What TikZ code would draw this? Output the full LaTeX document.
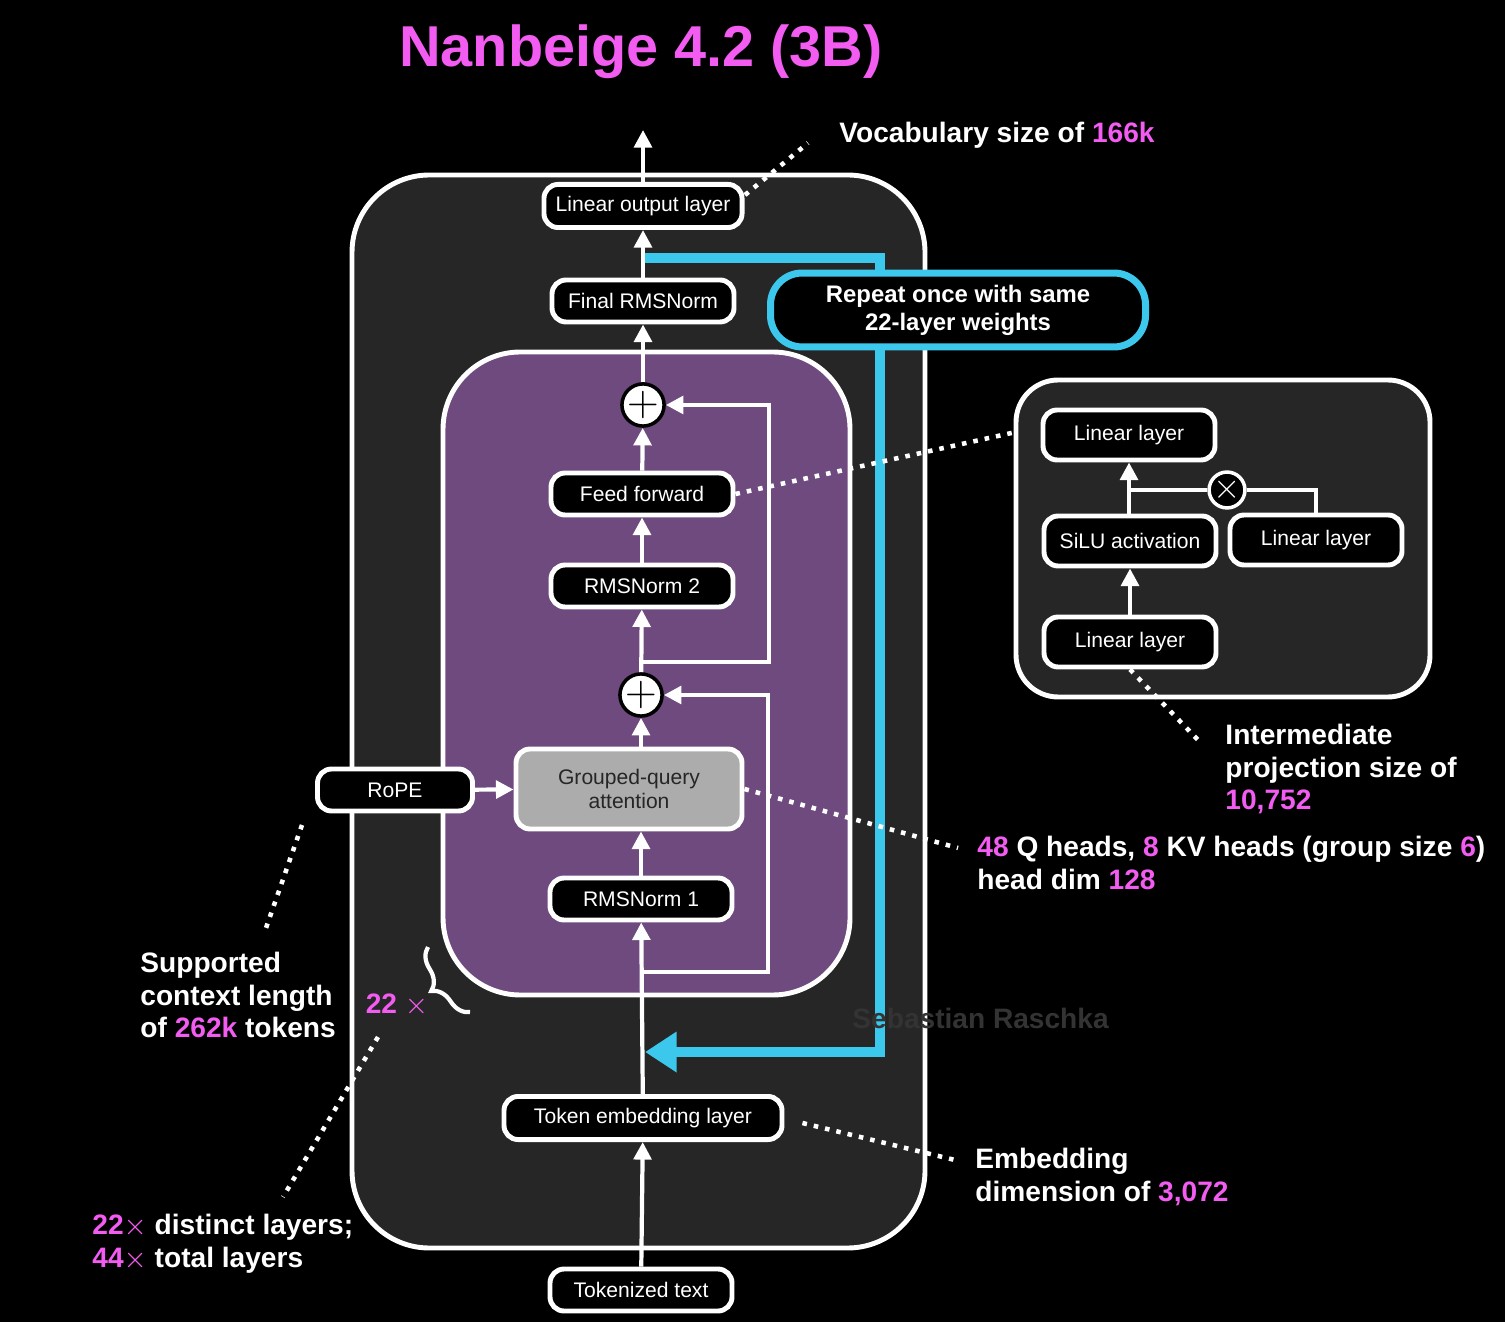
\documentclass[tikz,border=0pt]{standalone}
\usepackage{fontspec}
\setmainfont{Liberation Sans}
\usepackage{tikz}
\usetikzlibrary{arrows.meta,decorations.pathreplacing}
\definecolor{pink}{HTML}{F25CF0}
\definecolor{panel}{HTML}{262626}
\definecolor{plum}{HTML}{6F4A7E}
\definecolor{cyanline}{HTML}{3CC8EC}
\tikzset{
  blk/.style={draw=white,line width=1.4pt,rounded corners=4pt,fill=black,text=white,
    minimum height=0.42cm,font=\fontsize{6}{7}\selectfont,align=center},
  sumnode/.style={circle,draw=black,fill=white,line width=1pt,minimum size=0.3cm,inner sep=0pt},
  flow/.style={white,line width=1.2pt,-{Triangle[length=5pt,width=5pt]}},
  dots/.style={white,line width=1.3pt,dotted},
  note/.style={text=white,font=\bfseries\fontsize{8}{9.2}\selectfont,align=left,anchor=west}
}
\begin{document}
\begin{tikzpicture}[x=1cm,y=1cm]
      \fill[black] (0,0) rectangle (15.05,13.22);
      \useasboundingbox (0,0) rectangle (15.05,13.22);
      \node[text=pink,font=\bfseries\fontsize{16.4}{19}\selectfont] (title) at (6.41,12.70) {Nanbeige 4.2 (3B)};
      % outer and inner panels
      \draw[white,line width=1.4pt,fill=panel,rounded corners=22pt] (3.52,0.74) rectangle (9.25,11.47);
      \draw[white,line width=1.4pt,fill=plum,rounded corners=22pt] (4.43,3.27) rectangle (8.50,9.70);
      \draw[white,line width=1.4pt,fill=panel,rounded corners=12pt] (10.16,6.25) rectangle (14.30,9.42);
      % main column
      \node[blk,minimum width=1.95cm] (out) at (6.43,11.16) {Linear output layer};
      \node[blk,minimum width=1.82cm] (fnorm) at (6.43,10.21) {Final RMSNorm};
      \node[blk,minimum width=1.82cm] (ff) at (6.42,8.28) {Feed forward};
      \node[blk,minimum width=1.82cm] (norm2) at (6.42,7.36) {RMSNorm 2};
      \node[blk,fill=gray!65,text=black!85,minimum width=2.26cm,minimum height=0.8cm] (gqa) at (6.29,5.33) {Grouped-query\\attention};
      \node[blk,minimum width=1.82cm] (norm1) at (6.41,4.23) {RMSNorm 1};
      \node[blk,minimum width=1.55cm] (rope) at (3.95,5.32) {RoPE};
      \node[blk,minimum width=2.78cm] (emb) at (6.43,2.04) {Token embedding layer};
      \node[blk,minimum width=1.82cm] (tok) at (6.41,0.32) {Tokenized text};
      % repeat loop
      \coordinate (lpin) at (6.45,10.64);
      \coordinate (lpout) at (6.45,2.70);
      \draw[cyanline,line width=3pt,-{Triangle[length=9pt,width=11pt]}] (lpin) -- (8.80,10.64) -- (8.80,2.70) -- (lpout);
      \node[blk,draw=cyanline,line width=2pt,rounded corners=9pt,minimum width=3.75cm,minimum height=0.66cm,
        font=\bfseries\fontsize{6.8}{8}\selectfont] (rep) at (9.58,10.12) {Repeat once with same\\22-layer weights};
      \node[sumnode] (sum2) at (6.43,9.17) {\large $+$};
      \node[sumnode] (sum1) at (6.41,6.27) {\large $+$};
      \coordinate (top) at (6.43,11.92);
      \draw[flow] (tok) -- (emb);
      \draw[flow] (emb) -- (norm1);
      \draw[flow] (norm1) -- (gqa.south -| norm1);
      \draw[flow] (gqa.north -| sum1) -- (sum1);
      \draw[flow] (sum1) -- (norm2);
      \draw[flow] (norm2) -- (ff);
      \draw[flow] (ff) -- (sum2);
      \draw[flow] (sum2) -- (fnorm);
      \draw[flow] (fnorm) -- (out);
      \draw[flow] (out) -- (top);
      \draw[flow] (rope) -- (gqa);
      % residual paths
      \coordinate (r1) at (6.41,3.50);
      \coordinate (r2) at (6.41,6.60);
      \draw[flow] (r1) -- (7.68,3.50) |- (sum1);
      \draw[flow] (r2) -- (7.69,6.60) |- (sum2);
      % feed forward detail
      \node[blk,minimum width=1.72cm,minimum height=0.5cm] (lintop) at (11.29,8.87) {Linear layer};
      \node[blk,minimum width=1.72cm,minimum height=0.5cm] (silu) at (11.30,7.81) {SiLU activation};
      \node[blk,minimum width=1.72cm,minimum height=0.5cm] (linright) at (13.16,7.82) {Linear layer};
      \node[blk,minimum width=1.72cm,minimum height=0.5cm] (linbot) at (11.30,6.80) {Linear layer};
      \node[sumnode,fill=black,draw=white,text=white,minimum size=0.28cm] (mul) at (12.27,8.32) {$\times$};
      \draw[flow] (linbot) -- (silu);
      \draw[flow] (silu.north -| lintop) -- (lintop);
      \draw[white,line width=1.2pt] (11.30,8.32) -- (mul) -| (linright);
      % annotations
      \draw[dots] (7.45,11.27) -- (8.08,11.79);
      \node[note] (vocab) at (8.27,11.87) {Vocabulary size of \textcolor{pink}{166k}};
      \draw[dots] (ff.east) -- (10.16,8.90);
      \draw[dots] (linbot.south) -- (12.00,5.80);
      \node[note,anchor=north west] (inter) at (12.13,6.10) {Intermediate\\projection size of\\\textcolor{pink}{10,752}};
      \draw[dots] (gqa.east) -- (9.58,4.74);
      \node[note,anchor=north west] (heads) at (9.65,4.98) {\textcolor{pink}{48} Q heads, \textcolor{pink}{8} KV heads (group size \textcolor{pink}{6})\\head dim \textcolor{pink}{128}};
      \draw[dots] (emb.east) ++(0.18,-0.05) -- (9.55,1.62);
      \node[note,anchor=north west] (embdim) at (9.63,1.86) {Embedding\\dimension of \textcolor{pink}{3,072}};
      \draw[dots] (3.02,4.97) -- (2.66,3.94);
      \node[note,anchor=north west] (ctx) at (1.28,3.82) {Supported\\context length\\of \textcolor{pink}{262k} tokens};
      \node[text=pink,font=\bfseries\fontsize{8}{9}\selectfont] (rpt) at (3.97,3.17) {22 $\times$};
      \draw[white,line width=1.2pt,decorate,decoration={brace,amplitude=6pt}] (4.70,3.10) -- (4.28,3.75);
      \draw[dots] (3.78,2.85) -- (2.83,1.25);
      \node[note,anchor=north west] (layers) at (0.80,1.20) {\textcolor{pink}{22$\times$} distinct layers;\\\textcolor{pink}{44$\times$} total layers};
      \node[text=gray!40!black,font=\bfseries\fontsize{8}{9}\selectfont,anchor=west] (wm) at (8.40,3.04) {Sebastian Raschka};
    \end{tikzpicture}
\end{document}
